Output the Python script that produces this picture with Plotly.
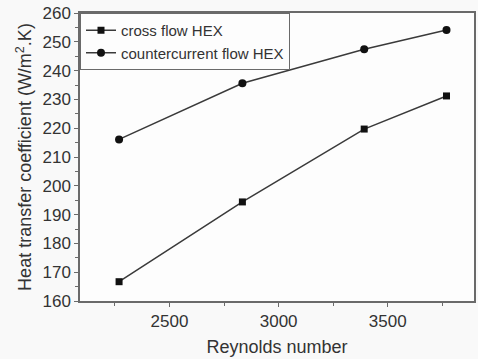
import plotly.graph_objects as go

reynolds = [2269, 2834, 3392, 3769]
cross_flow = [166.7, 194.4, 219.7, 231.2]
counter_flow = [216.1, 235.6, 247.4, 254.1]

line_col = "#3a3a3a"
axis_col = "#6a6a6a"
font = "Liberation Sans, Arial, sans-serif"

fig = go.Figure()
fig.add_trace(go.Scatter(x=reynolds, y=cross_flow, mode="lines+markers",
                         name="cross flow HEX",
                         line=dict(color=line_col, width=1.5),
                         marker=dict(symbol="square", size=7, color="#111")))
fig.add_trace(go.Scatter(x=reynolds, y=counter_flow, mode="lines+markers",
                         name="countercurrent flow HEX",
                         line=dict(color=line_col, width=1.5),
                         marker=dict(symbol="circle", size=8, color="#111")))

fig.update_layout(
    width=478, height=359,
    margin=dict(l=80, r=2, t=13, b=58),
    paper_bgcolor="#f9f9f9", plot_bgcolor="#fdfdfd",
    font=dict(family=font, size=17, color="#333"),
    showlegend=True,
    legend=dict(x=0, y=1, xanchor="left", yanchor="top",
                bgcolor="#fdfdfd", bordercolor=axis_col, borderwidth=1,
                font=dict(size=15, color="#333"),
                tracegroupgap=0, itemwidth=30),
    xaxis=dict(range=[2090, 3895], tickvals=[2500, 3000, 3500],
               showgrid=False, zeroline=False,
               showline=True, linecolor=axis_col, linewidth=1.5, mirror=True,
               ticks="outside", ticklen=4, tickcolor=axis_col,
               minor=dict(dtick=250, tick0=0, ticks="outside", ticklen=3, tickcolor=axis_col),
               title=dict(text="Reynolds number", font=dict(size=18), standoff=10)),
    yaxis=dict(range=[160, 260], dtick=10,
               showgrid=False, zeroline=False,
               showline=True, linecolor=axis_col, linewidth=1.5, mirror=True,
               ticks="outside", ticklen=4, tickcolor=axis_col,
               minor=dict(dtick=5, ticks="outside", ticklen=3, tickcolor=axis_col),
               title=dict(text="Heat transfer coefficient (W/m<sup>2</sup>.K)",
                          font=dict(size=18), standoff=6)),
)

# drop the browser's default body margin so the figure fills the window
fig.write_html("out.html", config={"displayModeBar": False},
               post_script="document.body.style.margin='0';")
